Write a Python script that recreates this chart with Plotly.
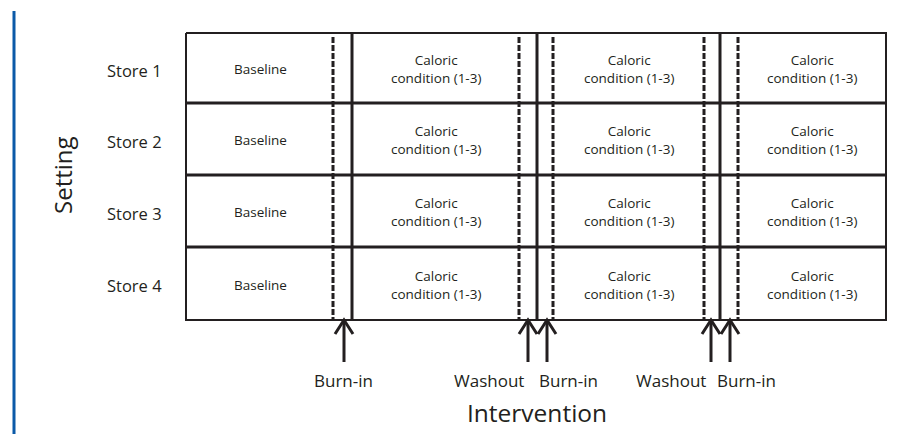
import plotly.graph_objects as go

# ---- data (diagram layout in px-like units) ----
stores = ["Store 1", "Store 2", "Store 3", "Store 4"]
row_edges = [33, 103, 175, 247, 320]          # top..bottom of the 4 store rows
box_x = [186, 886]
solid_x = [352, 537, 720]                       # period boundaries
dashed_x = [333, 519, 553, 704, 738]            # burn-in / washout boundaries
period_labels = ["Baseline", "Caloric<br>condition (1-3)", "Caloric<br>condition (1-3)", "Caloric<br>condition (1-3)"]
period_centers = [260, 436, 629, 812]
arrow_x = [344, 528, 547, 711, 730]
arrow_labels = ["Burn-in", "Washout", "Burn-in", "Washout", "Burn-in"]
arrow_label_x = [343, 489, 568, 671, 746]

INK = "#231f20"
FONT = "Open Sans, Noto Sans, sans-serif"

fig = go.Figure()

def line(xs, ys, width=2, dash=None, color=INK):
    fig.add_trace(go.Scatter(x=xs, y=ys, mode="lines", hoverinfo="skip",
                             line=dict(color=color, width=width, dash=dash), showlegend=False))

# blue rule on the left
line([14, 14], [11, 440], width=3, color="#0b5aa8")

# outer box
line([box_x[0], box_x[1], box_x[1], box_x[0], box_x[0]],
     [row_edges[0], row_edges[0], row_edges[-1], row_edges[-1], row_edges[0]], width=2)
# row separators
for y in row_edges[1:-1]:
    line(box_x, [y, y], width=3)
# solid period boundaries
for x in solid_x:
    line([x, x], [row_edges[0], row_edges[-1]], width=3)
# dashed burn-in / washout boundaries
for x in dashed_x:
    line([x, x], [row_edges[0] + 4, row_edges[-1]], width=3, dash="6px,2px")

# arrows
for x in arrow_x:
    line([x, x], [362, 321], width=3)
    line([x - 9, x, x + 9], [334, 320, 334], width=3)

annotations = []
for i, s in enumerate(stores):
    yc = (row_edges[i] + row_edges[i + 1]) / 2
    annotations.append(dict(x=134, y=yc + 2, text=s, showarrow=False,
                            font=dict(size=16.5, color=INK, family=FONT)))
    for lab, xc in zip(period_labels, period_centers):
        annotations.append(dict(x=xc, y=yc + 1, text=lab, showarrow=False,
                                font=dict(size=13.5, color=INK, family=FONT)))
for lab, xc in zip(arrow_labels, arrow_label_x):
    annotations.append(dict(x=xc, y=380, text=lab, showarrow=False,
                            font=dict(size=17, color=INK, family=FONT)))
annotations.append(dict(x=537, y=412, text="Intervention", showarrow=False,
                        font=dict(size=24.5, color=INK, family=FONT)))
annotations.append(dict(x=62, y=175, text="Setting", showarrow=False, textangle=-90,
                        font=dict(size=24, color=INK, family=FONT)))

# page body has an 8px margin: shrink the figure and offset ranges so
# data units coincide with window pixels
fig.update_layout(
    width=913, height=426, margin=dict(l=0, r=0, t=0, b=0),
    paper_bgcolor="white", plot_bgcolor="white",
    xaxis=dict(range=[8, 921], visible=False, fixedrange=True),
    yaxis=dict(range=[434, 8], visible=False, fixedrange=True),
    annotations=annotations, showlegend=False,
)
fig.write_html("out.html")
